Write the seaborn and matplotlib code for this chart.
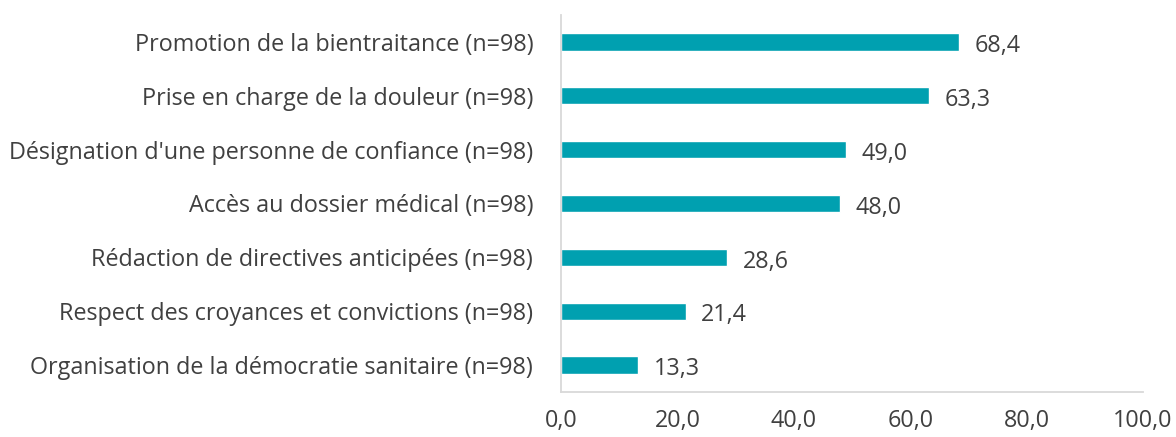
import matplotlib
matplotlib.use("Agg")
import matplotlib.pyplot as plt
import seaborn as sns
import pandas as pd

categories = [
    "Promotion de la bientraitance (n=98)",
    "Prise en charge de la douleur (n=98)",
    "Désignation d'une personne de confiance (n=98)",
    "Accès au dossier médical (n=98)",
    "Rédaction de directives anticipées (n=98)",
    "Respect des croyances et convictions (n=98)",
    "Organisation de la démocratie sanitaire (n=98)",
]
values = [68.4, 63.3, 49.0, 48.0, 28.6, 21.4, 13.3]
x_ticks = [0, 20, 40, 60, 80, 100]

df = pd.DataFrame({"cat": categories, "val": values})

sns.set_style("white")
plt.rcParams["font.family"] = ["Open Sans", "DejaVu Sans"]
text_color = "#404040"
bar_color = "#00A0B0"
fs = 16.8

fig = plt.figure(figsize=(11.76, 4.37), dpi=100)
ax = fig.add_axes([561 / 1176, 1 - 392 / 437, (1143 - 561) / 1176, (392 - 15) / 437])

sns.barplot(data=df, x="val", y="cat", color=bar_color, width=0.32,
            saturation=1, ax=ax, orient="h")

# value labels, slightly below the bar centre as in the original
for c in ax.containers:
    for rect, v in zip(c, values):
        ax.annotate(f"{v:.1f}".replace(".", ","),
                    (rect.get_width(), rect.get_y() + rect.get_height() / 2),
                    xytext=(11, -3), textcoords="offset points",
                    va="center", ha="left", fontsize=fs, color=text_color)

ax.set_xlim(0, 100)
ax.set_ylim(6.5, -0.5)
ax.set_xticks(x_ticks)
ax.set_xticklabels([f"{t:.1f}".replace(".", ",") for t in x_ticks])
ax.set_xlabel("")
ax.set_ylabel("")
ax.tick_params(axis="x", length=0, pad=12, labelsize=fs, colors=text_color)
ax.tick_params(axis="y", length=0, pad=20, labelsize=fs, colors=text_color)

for s in ["top", "right"]:
    ax.spines[s].set_visible(False)
for s in ["left", "bottom"]:
    ax.spines[s].set_color("#D9D9D9")
    ax.spines[s].set_linewidth(1.3)

fig.savefig("out.png", dpi=100)
